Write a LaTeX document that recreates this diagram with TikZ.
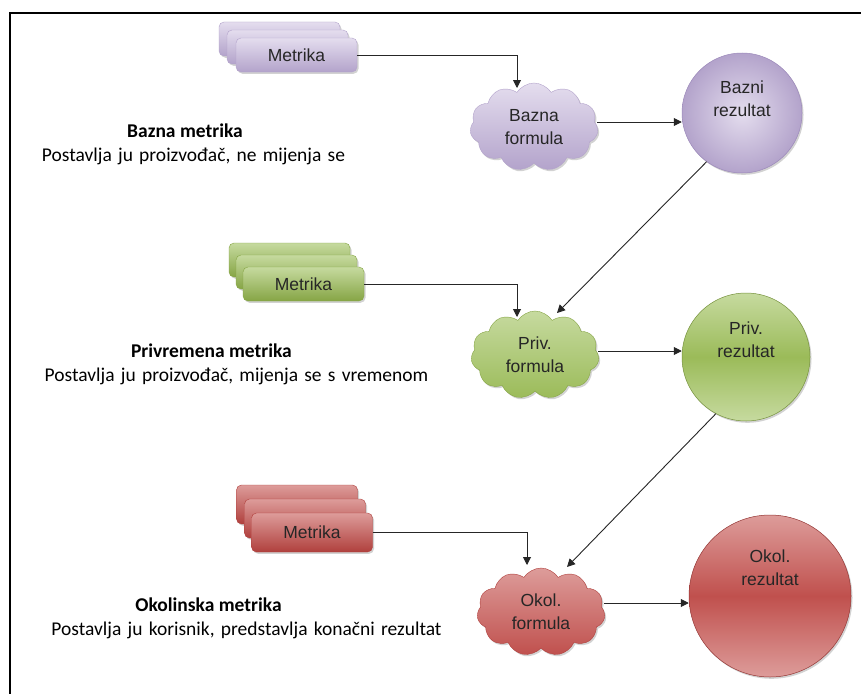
\documentclass[tikz,border=0pt]{standalone}
\usepackage{fontspec}
\setmainfont{Liberation Sans}
\newfontfamily\calib{Carlito}
\newcommand\widesp{\spaceskip=0.32em plus 0.1em minus 0.05em\relax}
\usetikzlibrary{shapes.symbols,shadows,arrows.meta}
\definecolor{pl}{HTML}{E4DDEE}
\definecolor{pm}{HTML}{CFC4E0}
\definecolor{pd}{HTML}{B3A3CB}
\definecolor{pe}{HTML}{9C89BA}
\definecolor{gl}{HTML}{C6DA9F}
\definecolor{gm}{HTML}{9BBB59}
\definecolor{gd}{HTML}{86A545}
\definecolor{ge}{HTML}{76923C}
\definecolor{rl}{HTML}{DD9C9A}
\definecolor{rm}{HTML}{C0504D}
\definecolor{rd}{HTML}{B0403D}
\definecolor{re}{HTML}{943634}
\tikzset{
  x=1pt, y=-1pt,
  ntxt/.style={font=\fontsize{17.5}{23}\selectfont, align=center, inner sep=0pt, text=black!85},
  lbold/.style={font=\calib\bfseries\fontsize{19.5}{22}\selectfont, inner sep=0pt, anchor=base},
  lreg/.style={font=\calib\fontsize{19.5}{22}\selectfont, execute at begin node=\widesp, inner sep=0pt, anchor=base},
  shad/.style={drop shadow={opacity=0.35, shadow xshift=1.5pt, shadow yshift=-1.8pt}},
  mbox/.style={rectangle, rounded corners=5pt, minimum width=121pt, minimum height=34pt, inner sep=0pt, shad, ntxt},
  pbox/.style={mbox, top color=pl, bottom color=pd, draw=pd, line width=0.4pt},
  gbox/.style={mbox, top color=gl, bottom color=gd, draw=gd, line width=0.4pt},
  rbox/.style={mbox, minimum height=39pt, top color=rl, bottom color=rd, draw=rd, line width=0.4pt},
  cld/.style={cloud, cloud puffs=11, cloud puff arc=115, aspect=1.45, minimum width=128pt, minimum height=88pt, inner sep=0pt, shad, ntxt},
  pcloud/.style={cld, top color=pl, bottom color=pd, draw=pd, line width=0.4pt},
  gcloud/.style={cld, top color=gl, bottom color=gm, draw=gd, line width=0.4pt},
  rcloud/.style={cld, top color=rl, bottom color=rm, draw=rd, line width=0.4pt},
  circ/.style={circle, inner sep=0pt, shad},
  arr/.style={-{Triangle[length=8pt,width=8pt]}, line width=0.9pt, black!85},
}
\begin{document}
\begin{tikzpicture}
\useasboundingbox (0,0) rectangle (861,693);
\fill[white] (0,0) rectangle (861,693);
\draw[line width=2pt] (10,720) -- (10,13) -- (900,13);

% purple row
\node[pbox] (pb3) at (279.5,39) {};
\node[pbox] (pb2) at (287.5,47) {};
\node[pbox] (pb1) at (296.5,55) {Metrika};
\node[pcloud] (pc) at (534,127) {Bazna\\formula};
\node[circ, minimum size=120pt, inner color=pl, outer color=pd, draw=pe, line width=0.5pt] (pr) at (742,113) {};
\node[ntxt] (prt) at ([yshift=14pt]pr.center) {Bazni\\rezultat};
\node[lbold] (pt1) at (185,137) {Bazna metrika};
\node[lreg] (pt2) at (193.5,161) {Postavlja ju proizvođač, ne mijenja se};

% green row
\node[gbox] (gb3) at (289.5,260) {};
\node[gbox] (gb2) at (296.5,272) {};
\node[gbox] (gb1) at (303.5,284) {Metrika};
\node[gcloud] (gc) at (535,355) {Priv.\\formula};
\node[circ, minimum size=128pt, top color=gl, bottom color=gl, middle color=gm, draw=ge, line width=0.5pt] (gr) at (746,357) {};
\node[ntxt] (grt) at ([yshift=17pt]gr.center) {Priv.\\rezultat};
\node[lbold] (gt1) at (211.5,357) {Privremena metrika};
\node[lreg] (gt2) at (236.5,381) {Postavlja ju proizvođač, mijenja se s vremenom};

% red row
\node[rbox] (rb3) at (297,504.5) {};
\node[rbox] (rb2) at (305,518.5) {};
\node[rbox] (rb1) at (312,532.5) {Metrika};
\node[rcloud] (rc) at (541,612) {Okol.\\formula};
\node[circ, minimum size=162pt, top color=rl, bottom color=rl, middle color=rm, draw=re, line width=0.5pt] (rr) at (770,596) {};
\node[ntxt] (rrt) at ([yshift=28pt]rr.center) {Okol.\\rezultat};
\node[lbold] (rt1) at (208.5,611) {Okolinska metrika};
\node[lreg] (rt2) at (246.5,635) {Postavlja ju korisnik, predstavlja konačni rezultat};

% connectors
\draw[arr] (pb1.east) -| ([xshift=-17pt,yshift=39pt]pc.center);
\draw[arr] ([yshift=5pt]pc.east) -- ([yshift=5pt]pc.east -| pr.west);
\draw[arr] (pr.234) -- ([xshift=22pt,yshift=42pt]gc.center);

\draw[arr] (gb1.east) -| ([xshift=-18pt,yshift=38pt]gc.center);
\draw[arr] ([yshift=4pt]gc.east) -- ([yshift=4pt]gc.east -| gr.west);
\draw[arr] (gr.242) -- ([xshift=26pt,yshift=45pt]rc.center);

\draw[arr] (rb1.east) -| ([xshift=-14pt,yshift=47pt]rc.center);
\draw[arr] ([yshift=9pt]rc.east) -- ([yshift=9pt]rc.east -| rr.west);
\end{tikzpicture}
\end{document}
